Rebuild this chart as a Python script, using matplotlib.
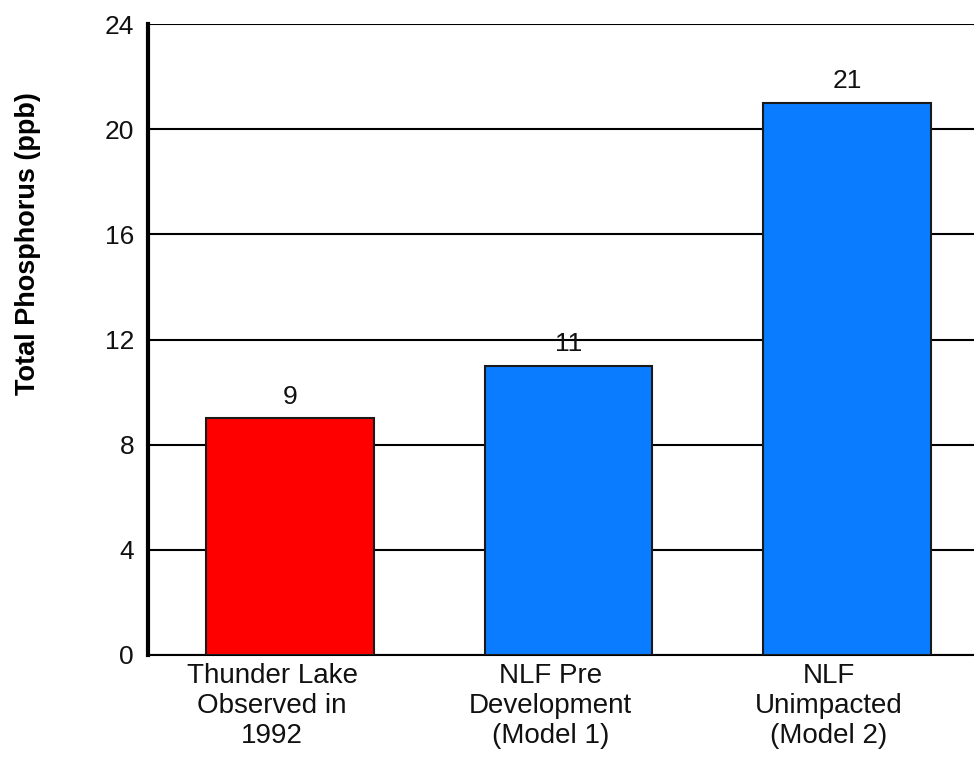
import matplotlib
matplotlib.use("Agg")
import matplotlib.pyplot as plt
import matplotlib.transforms as mtransforms
from matplotlib.ticker import MultipleLocator

categories = ["Thunder Lake\nObserved in\n1992",
              "NLF Pre\nDevelopment\n(Model 1)",
              "NLF\nUnimpacted\n(Model 2)"]
phosphorus = [9, 11, 21]
bar_colors = ["#ff0000", "#0a7cff", "#0a7cff"]

plt.rcParams["font.family"] = ["Liberation Sans", "DejaVu Sans"]

fig = plt.figure(figsize=(9.74, 7.57), dpi=100)
ax = fig.add_axes([148 / 974, 102 / 757, 826 / 974, 631 / 757])

x = range(len(categories))
bars = ax.bar(x, phosphorus, width=0.6, color=bar_colors,
              edgecolor="#1a1a1a", linewidth=1.5, zorder=3)

for b, v in zip(bars, phosphorus):
    ax.annotate(str(v), (b.get_x() + b.get_width() / 2, v),
                xytext=(0, 7), textcoords="offset points",
                ha="center", va="bottom", fontsize=19, color="#111111")

ax.set_ylim(0, 24)
ax.set_xlim(-0.51, 2.456)
ax.yaxis.set_major_locator(MultipleLocator(4))
ax.set_xticks(list(x))
ax.set_xticklabels(categories, fontsize=20, linespacing=1.2,
                   multialignment="center", color="#111111")
ax.tick_params(axis="y", length=0, pad=10, labelsize=19, labelcolor="#111111")
ax.tick_params(axis="x", length=0, pad=6)

# category labels sit a little left of the bar centres
shift = mtransforms.ScaledTranslation(-18 / 100, 0, fig.dpi_scale_trans)
for lbl in ax.get_xticklabels():
    lbl.set_transform(lbl.get_transform() + shift)

ax.grid(axis="y", color="black", linewidth=1.5, zorder=0)
ax.set_axisbelow(True)
for side in ["top", "right"]:
    ax.spines[side].set_visible(False)
ax.spines["left"].set_linewidth(3)
ax.spines["bottom"].set_linewidth(1.5)

fig.text(28 / 974, 1 - 244 / 757, "Total Phosphorus (ppb)",
         rotation=90, ha="center", va="center", fontsize=19.5, fontweight="bold")

fig.savefig("out.png", dpi=100)
